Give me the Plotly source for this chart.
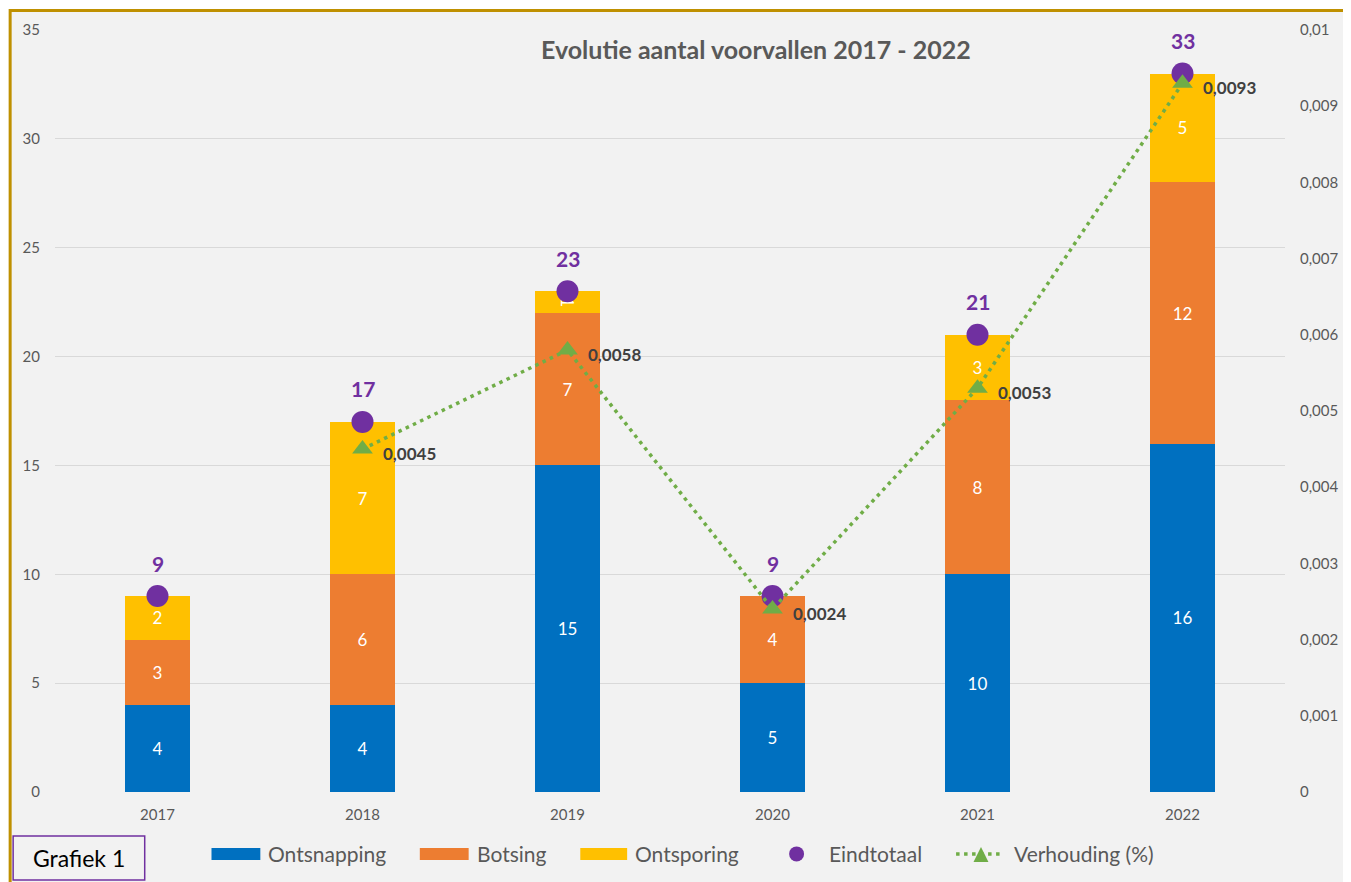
import plotly.graph_objects as go

years = ["2017", "2018", "2019", "2020", "2021", "2022"]
ontsnapping = [4, 4, 15, 5, 10, 16]
botsing = [3, 6, 7, 4, 8, 12]
ontsporing = [2, 7, 1, None, 3, 5]
eindtotaal = [9, 17, 23, 9, 21, 33]
verhouding = [None, 0.0045, 0.0058, 0.0024, 0.0053, 0.0093]
left_ticks = [0, 5, 10, 15, 20, 25, 30, 35]
right_ticks = [0, 0.001, 0.002, 0.003, 0.004, 0.005, 0.006, 0.007, 0.008, 0.009, 0.01]
right_ticktext = ["0", "0,001", "0,002", "0,003", "0,004", "0,005", "0,006", "0,007", "0,008", "0,009", "0,01"]

FONT = "Lato"
GREY = "#595959"
BLUE, ORANGE, YELLOW, PURPLE, GREEN = "#0070C0", "#ED7D31", "#FFC000", "#7030A0", "#70AD47"

# page-pixel -> paper helpers (plot area spans x 55..1289, y 29..792 on the page)
def px(x):
    return (x - 55) / 1234

def py(y):
    return (792 - y) / 763

fig = go.Figure()
for name, vals, col in [("Ontsnapping", ontsnapping, BLUE),
                        ("Botsing", botsing, ORANGE),
                        ("Ontsporing", ontsporing, YELLOW)]:
    fig.add_trace(go.Bar(
        x=years, y=vals, name=name, marker=dict(color=col, line=dict(width=0)),
        text=[("" if v is None else str(v)) for v in vals],
        textposition="inside", insidetextanchor="middle", constraintext="none",
        textfont=dict(color="white", size=17, family=FONT),
        showlegend=False,
    ))

fig.add_trace(go.Scatter(
    x=years, y=eindtotaal, name="Eindtotaal", mode="markers",
    marker=dict(color=PURPLE, size=22, symbol="circle"), showlegend=False,
))
fig.add_trace(go.Scatter(
    x=years, y=verhouding, name="Verhouding (%)", mode="lines+markers", yaxis="y2",
    line=dict(color=GREEN, width=3.5, dash="3.5px,4.5px"),
    marker=dict(color=GREEN, size=18, symbol="triangle-up"),
    connectgaps=False, showlegend=False,
))

annotations = []
for i, t in enumerate(eindtotaal):
    annotations.append(dict(x=i, y=t, xref="x", yref="y", text=f"<b>{t}</b>",
                            showarrow=False, yshift=33, xanchor="center", yanchor="middle",
                            font=dict(color=PURPLE, size=21, family=FONT)))
for i, v in enumerate(verhouding):
    if v is None:
        continue
    annotations.append(dict(x=i, y=v, xref="x", yref="y2",
                            text="<b>" + f"{v:.4f}".replace(".", ",") + "</b>",
                            showarrow=False, xanchor="left", yanchor="middle",
                            xshift=18, yshift=-4,
                            font=dict(color="#404040", size=17, family=FONT)))
annotations.append(dict(x=px(758), y=py(48), xref="paper", yref="paper",
                        xanchor="center", yanchor="middle",
                        text="<b>Evolutie aantal voorvallen 2017 - 2022</b>",
                        showarrow=False, font=dict(color=GREY, size=25, family=FONT)))
annotations.append(dict(x=px(79), y=py(858), xref="paper", yref="paper",
                        xanchor="center", yanchor="middle",
                        text="Grafiek 1", showarrow=False,
                        font=dict(color="black", size=23, family=FONT)))

# custom legend
legend_items = [("Ontsnapping", 267), ("Botsing", 476), ("Ontsporing", 635),
                ("Eindtotaal", 830), ("Verhouding (%)", 1015)]
for label, x in legend_items:
    annotations.append(dict(x=px(x), y=py(854), xref="paper", yref="paper", text=label,
                            showarrow=False, xanchor="left", yanchor="middle",
                            font=dict(color=GREY, size=21, family=FONT)))

shapes = [
    dict(type="rect", xref="paper", yref="paper", x0=px(10), x1=1.2, y0=-0.3, y1=py(9.5),
         fillcolor="#F2F2F2", line=dict(color="#BF9000", width=3), layer="below"),
    dict(type="rect", xref="paper", yref="paper", x0=px(13), x1=px(145),
         y0=py(880), y1=py(836),
         fillcolor="rgba(0,0,0,0)", line=dict(color=PURPLE, width=1.5)),
]
for (x0, x1), col in [((212, 261), BLUE), ((421, 470), ORANGE), ((582, 629), YELLOW)]:
    shapes.append(dict(type="rect", xref="paper", yref="paper", x0=px(x0), x1=px(x1),
                       y0=py(860), y1=py(848), fillcolor=col, line=dict(width=0)))
shapes.append(dict(type="circle", xref="paper", yref="paper", x0=px(791.5), x1=px(806.5),
                   y0=py(861.5), y1=py(846.5), fillcolor=PURPLE, line=dict(width=0)))
shapes.append(dict(type="line", xref="paper", yref="paper", x0=px(959), x1=px(1006),
                   y0=py(854), y1=py(854), line=dict(color=GREEN, width=3.5, dash="3.5px,4.5px")))
shapes.append(dict(type="path", xref="paper", yref="paper",
                   path=f"M {px(976.5)} {py(862)} L {px(991.5)} {py(862)} L {px(984)} {py(847)} Z",
                   fillcolor=GREEN, line=dict(width=0)))

fig.update_layout(
    width=1343, height=874,
    margin=dict(l=47, r=62, t=21, b=90),
    paper_bgcolor="white", plot_bgcolor="rgba(0,0,0,0)",
    barmode="stack", bargap=0.684,
    uniformtext=dict(minsize=17, mode="show"),
    font=dict(family=FONT, color=GREY),
    showlegend=False,
    xaxis=dict(type="category", range=[-0.5, 5.5], showgrid=False, showline=False,
               zeroline=False, tickfont=dict(size=15, color=GREY), ticklabelstandoff=12),
    yaxis=dict(range=[0, 35], tickvals=left_ticks, showgrid=True, gridcolor="#D9D9D9",
               gridwidth=1, zeroline=False, showline=False,
               tickfont=dict(size=15, color=GREY), ticklabelstandoff=14),
    yaxis2=dict(range=[0, 0.01], overlaying="y", side="right", tickvals=right_ticks,
                ticktext=right_ticktext, showgrid=False, zeroline=False, showline=False,
                tickfont=dict(size=15, color=GREY), ticklabelstandoff=14),
    annotations=annotations, shapes=shapes,
)

fig.write_html("out.html")
